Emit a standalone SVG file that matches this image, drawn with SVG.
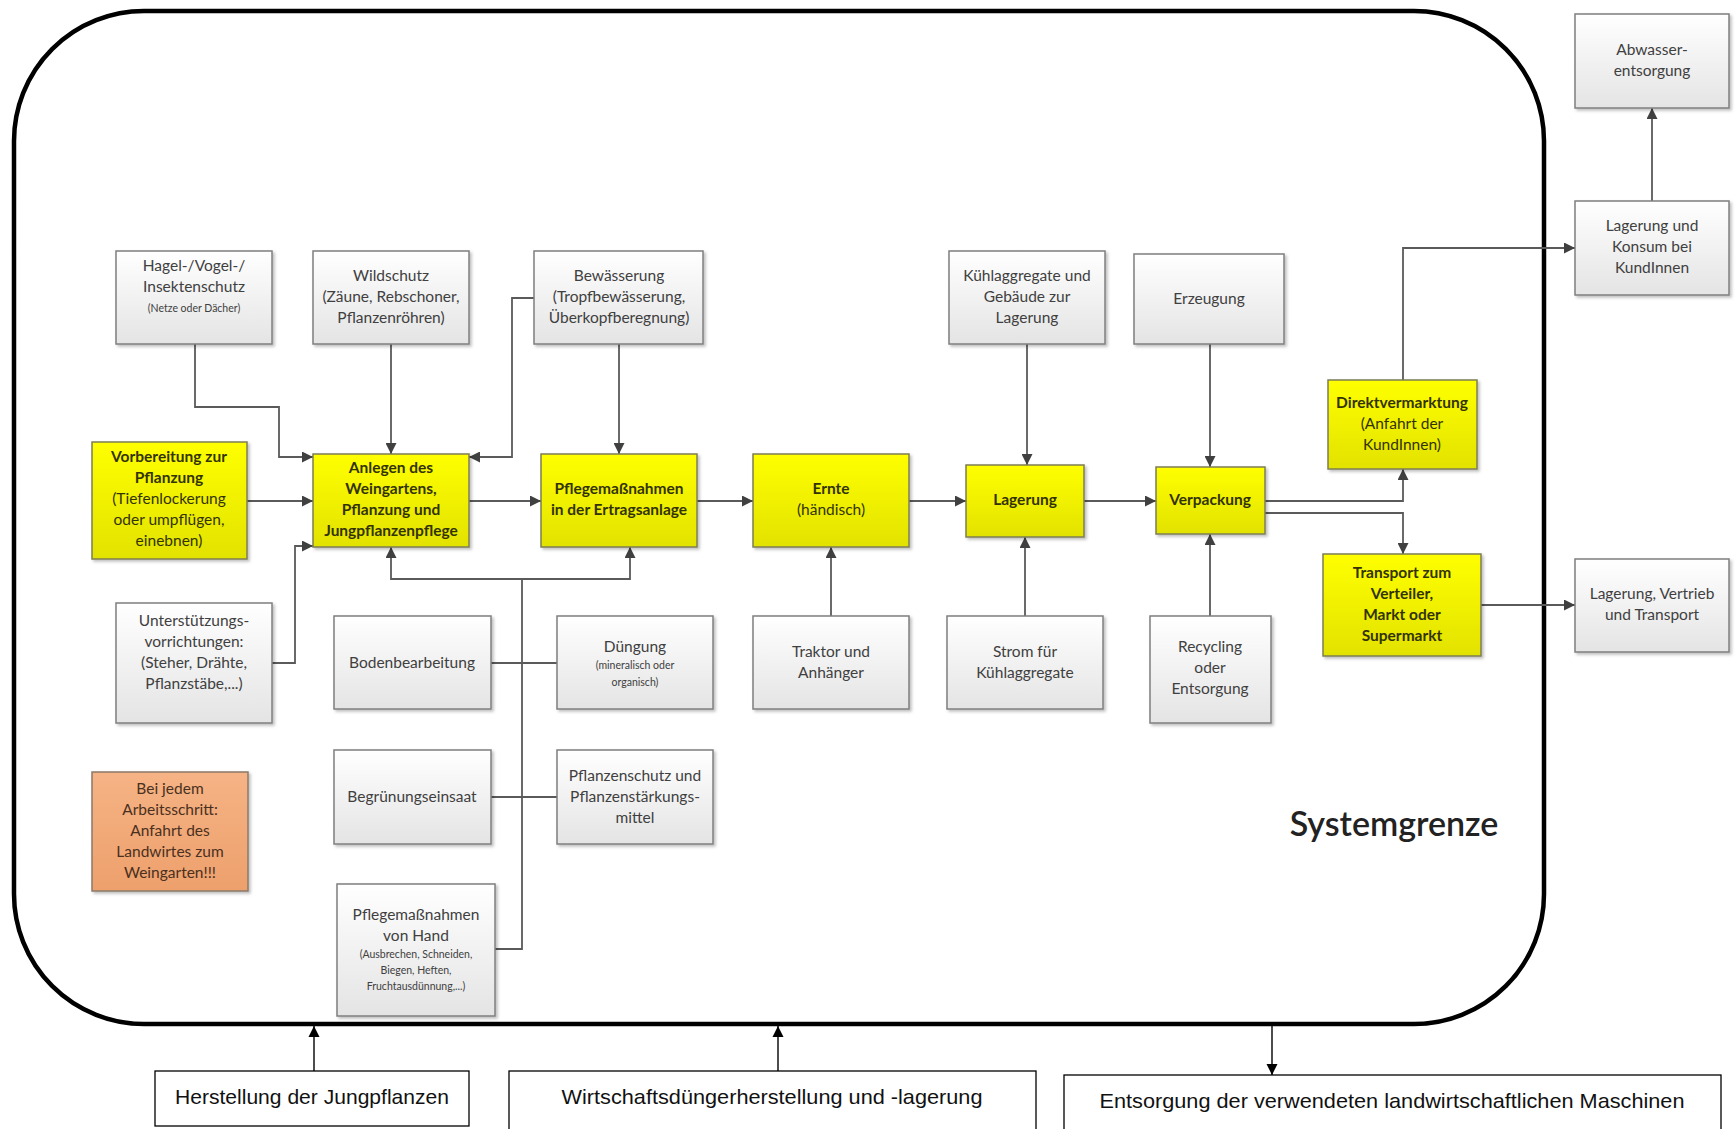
<svg xmlns="http://www.w3.org/2000/svg" width="1735" height="1129" viewBox="0 0 1735 1129">
<defs>
<linearGradient id="gGray" x1="0" y1="0" x2="0" y2="1"><stop offset="0" stop-color="#ffffff"/><stop offset="1" stop-color="#e4e4e4"/></linearGradient>
<linearGradient id="gYel" x1="0" y1="0" x2="0" y2="1"><stop offset="0" stop-color="#ffff00"/><stop offset="1" stop-color="#e2e200"/></linearGradient>
<linearGradient id="gOr" x1="0" y1="0" x2="0" y2="1"><stop offset="0" stop-color="#f6b385"/><stop offset="1" stop-color="#eda06c"/></linearGradient>
<filter id="sh" x="-10%" y="-10%" width="125%" height="125%"><feDropShadow dx="2" dy="2" stdDeviation="1.5" flood-color="#000" flood-opacity="0.25"/></filter>
<marker id="ah" viewBox="0 0 10 10" refX="10" refY="5" markerWidth="11" markerHeight="11" markerUnits="userSpaceOnUse" orient="auto"><path d="M0,0 L10,5 L0,10 z" fill="#404040"/></marker>
<marker id="ahk" viewBox="0 0 10 10" refX="10" refY="5" markerWidth="11" markerHeight="13" markerUnits="userSpaceOnUse" orient="auto"><path d="M0,0 L10,5 L0,10 z" fill="#000"/></marker>
</defs>
<style>
.g{fill:url(#gGray);stroke:#7f7f7f;stroke-width:1.5;filter:url(#sh)}
.y{fill:url(#gYel);stroke:#7d7d55;stroke-width:1.5;filter:url(#sh)}
.o{fill:url(#gOr);stroke:#8a7a6a;stroke-width:1.5;filter:url(#sh)}
.w{fill:#fff;stroke:#000;stroke-width:1.3}
text{font-family:Lato,"Open Sans","Liberation Sans",sans-serif;text-anchor:middle}
.t{font-size:15.5px;fill:#404040}
.ty{font-size:15.5px;fill:#333300}
.b{font-weight:bold}
.s{font-size:10.5px;fill:#404040}
.to{font-size:15.5px;fill:#4a3020}
.c{fill:none;stroke:#5a5a5a;stroke-width:1.8}
.ca{fill:none;stroke:#5a5a5a;stroke-width:1.8;marker-end:url(#ah)}
.ck{fill:none;stroke:#000;stroke-width:1.4;marker-end:url(#ahk)}
.bt{font-family:"Liberation Sans",Arial,sans-serif;font-size:21px;fill:#111}
</style>

<g id="systemgrenze">
<rect x="14" y="11" width="1530" height="1013" rx="130" ry="130" fill="none" stroke="#000" stroke-width="4.5"/>
<text x="1394" y="836" style="font-family:Lato,'Open Sans',sans-serif;font-size:34px;font-weight:600;fill:#222">Systemgrenze</text>
</g>

<g id="connectors">
<path class="ca" d="M195,344 V407 H279 V457 H313"/>
<path class="ca" d="M391,344 V454"/>
<path class="ca" d="M534,298 H512 V457 H469"/>
<path class="ca" d="M247,501 H313"/>
<path class="ca" d="M272,663 H295 V546 H313"/>
<path class="ca" d="M469,501 H541"/>
<path class="ca" d="M619,344 V454"/>
<path class="ca" d="M697,501 H753"/>
<path class="ca" d="M909,501 H966"/>
<path class="ca" d="M1084,501 H1156"/>
<path class="ca" d="M1027,344 V465"/>
<path class="ca" d="M1210,344 V467"/>
<path class="ca" d="M1265,501 H1403 V469"/>
<path class="ca" d="M1265,513 H1403 V554"/>
<path class="ca" d="M1403,380 V248 H1575"/>
<path class="ca" d="M1652,201 V108"/>
<path class="ca" d="M1481,605 H1575"/>
<path class="ca" d="M831,616 V547"/>
<path class="ca" d="M1025,616 V537"/>
<path class="ca" d="M1210,616 V534"/>
<path class="c" d="M522,579 V949 H495"/>
<path class="ca" d="M522,579 H391 V547"/>
<path class="ca" d="M522,579 H630 V547"/>
<path class="c" d="M491,663 H557"/>
<path class="c" d="M491,797 H557"/>
<path class="ck" d="M314,1071 V1026"/>
<path class="ck" d="M778,1071 V1026"/>
<path class="ck" d="M1272,1026 V1075"/>
</g>

<g id="hagel"><rect class="g" x="116" y="251" width="156" height="93"/>
<text class="t" x="194" y="271">Hagel-/Vogel-/</text><text class="t" x="194" y="292">Insektenschutz</text><text class="s" x="194" y="312">(Netze oder Dächer)</text></g>
<g id="wildschutz"><rect class="g" x="313" y="251" width="156" height="93"/>
<text class="t" x="391" y="281">Wildschutz</text><text class="t" x="391" y="302">(Zäune, Rebschoner,</text><text class="t" x="391" y="323">Pflanzenröhren)</text></g>
<g id="bewaesserung"><rect class="g" x="534" y="251" width="169" height="93"/>
<text class="t" x="619" y="281">Bewässerung</text><text class="t" x="619" y="302">(Tropfbewässerung,</text><text class="t" x="619" y="323">Überkopfberegnung)</text></g>
<g id="kuehlaggregate"><rect class="g" x="949" y="251" width="156" height="93"/>
<text class="t" x="1027" y="281">Kühlaggregate und</text><text class="t" x="1027" y="302">Gebäude zur</text><text class="t" x="1027" y="323">Lagerung</text></g>
<g id="erzeugung"><rect class="g" x="1134" y="254" width="150" height="90"/>
<text class="t" x="1209" y="304">Erzeugung</text></g>
<g id="abwasser"><rect class="g" x="1575" y="14" width="154" height="94"/>
<text class="t" x="1652" y="55">Abwasser-</text><text class="t" x="1652" y="76">entsorgung</text></g>
<g id="konsum"><rect class="g" x="1575" y="201" width="154" height="94"/>
<text class="t" x="1652" y="231">Lagerung und</text><text class="t" x="1652" y="252">Konsum bei</text><text class="t" x="1652" y="273">KundInnen</text></g>

<g id="vorbereitung"><rect class="y" x="92" y="442" width="155" height="117"/>
<text class="ty b" x="169" y="462">Vorbereitung zur</text><text class="ty b" x="169" y="483">Pflanzung</text><text class="ty" x="169" y="504">(Tiefenlockerung</text><text class="ty" x="169" y="525">oder umpflügen,</text><text class="ty" x="169" y="546">einebnen)</text></g>
<g id="anlegen"><rect class="y" x="313" y="454" width="156" height="93"/>
<text class="ty b" x="391" y="473">Anlegen des</text><text class="ty b" x="391" y="494">Weingartens,</text><text class="ty b" x="391" y="515">Pflanzung und</text><text class="ty b" x="391" y="536">Jungpflanzenpflege</text></g>
<g id="pflege-ertrag"><rect class="y" x="541" y="454" width="156" height="93"/>
<text class="ty b" x="619" y="494">Pflegemaßnahmen</text><text class="ty b" x="619" y="515">in der Ertragsanlage</text></g>
<g id="ernte"><rect class="y" x="753" y="454" width="156" height="93"/>
<text class="ty b" x="831" y="494">Ernte</text><text class="ty" x="831" y="515">(händisch)</text></g>
<g id="lagerung"><rect class="y" x="966" y="465" width="118" height="72"/>
<text class="ty b" x="1025" y="505">Lagerung</text></g>
<g id="verpackung"><rect class="y" x="1156" y="467" width="109" height="67"/>
<text class="ty b" x="1210" y="505">Verpackung</text></g>
<g id="direktvermarktung"><rect class="y" x="1328" y="380" width="149" height="89"/>
<text class="ty b" x="1402" y="408">Direktvermarktung</text><text class="ty" x="1402" y="429">(Anfahrt der</text><text class="ty" x="1402" y="450">KundInnen)</text></g>
<g id="transport"><rect class="y" x="1323" y="554" width="158" height="102"/>
<text class="ty b" x="1402" y="578">Transport zum</text><text class="ty b" x="1402" y="599">Verteiler,</text><text class="ty b" x="1402" y="620">Markt oder</text><text class="ty b" x="1402" y="641">Supermarkt</text></g>
<g id="vertrieb"><rect class="g" x="1575" y="559" width="154" height="93"/>
<text class="t" x="1652" y="599">Lagerung, Vertrieb</text><text class="t" x="1652" y="620">und Transport</text></g>

<g id="unterstuetzung"><rect class="g" x="116" y="603" width="156" height="120"/>
<text class="t" x="194" y="626">Unterstützungs-</text><text class="t" x="194" y="647">vorrichtungen:</text><text class="t" x="194" y="668">(Steher, Drähte,</text><text class="t" x="194" y="689">Pflanzstäbe,...)</text></g>
<g id="bodenbearbeitung"><rect class="g" x="334" y="616" width="157" height="93"/>
<text class="t" x="412" y="668">Bodenbearbeitung</text></g>
<g id="duengung"><rect class="g" x="557" y="616" width="156" height="93"/>
<text class="t" x="635" y="652">Düngung</text><text class="s" x="635" y="669">(mineralisch oder</text><text class="s" x="635" y="686">organisch)</text></g>
<g id="traktor"><rect class="g" x="753" y="616" width="156" height="93"/>
<text class="t" x="831" y="657">Traktor und</text><text class="t" x="831" y="678">Anhänger</text></g>
<g id="strom"><rect class="g" x="947" y="616" width="156" height="93"/>
<text class="t" x="1025" y="657">Strom für</text><text class="t" x="1025" y="678">Kühlaggregate</text></g>
<g id="recycling"><rect class="g" x="1150" y="616" width="121" height="107"/>
<text class="t" x="1210" y="652">Recycling</text><text class="t" x="1210" y="673">oder</text><text class="t" x="1210" y="694">Entsorgung</text></g>
<g id="anfahrt"><rect class="o" x="92" y="772" width="156" height="119"/>
<text class="to" x="170" y="794">Bei jedem</text><text class="to" x="170" y="815">Arbeitsschritt:</text><text class="to" x="170" y="836">Anfahrt des</text><text class="to" x="170" y="857">Landwirtes zum</text><text class="to" x="170" y="878">Weingarten!!!</text></g>
<g id="begruenung"><rect class="g" x="334" y="750" width="157" height="94"/>
<text class="t" x="412" y="802">Begrünungseinsaat</text></g>
<g id="pflanzenschutz"><rect class="g" x="557" y="750" width="156" height="94"/>
<text class="t" x="635" y="781">Pflanzenschutz und</text><text class="t" x="635" y="802">Pflanzenstärkungs-</text><text class="t" x="635" y="823">mittel</text></g>
<g id="pflege-hand"><rect class="g" x="337" y="884" width="158" height="132"/>
<text class="t" x="416" y="920">Pflegemaßnahmen</text><text class="t" x="416" y="941">von Hand</text><text class="s" x="416" y="958">(Ausbrechen, Schneiden,</text><text class="s" x="416" y="974">Biegen, Heften,</text><text class="s" x="416" y="990">Fruchtausdünnung,...)</text></g>

<g id="herstellung"><rect class="w" x="155" y="1071" width="314" height="55"/>
<text class="bt" x="312" y="1104" textLength="274" lengthAdjust="spacingAndGlyphs">Herstellung der Jungpflanzen</text></g>
<g id="wirtschaftsduenger"><rect class="w" x="509" y="1071" width="527" height="70"/>
<text class="bt" x="772" y="1104" textLength="421" lengthAdjust="spacingAndGlyphs">Wirtschaftsdüngerherstellung und -lagerung</text></g>
<g id="entsorgung"><rect class="w" x="1064" y="1075" width="657" height="70"/>
<text class="bt" x="1392" y="1108" textLength="585" lengthAdjust="spacingAndGlyphs">Entsorgung der verwendeten landwirtschaftlichen Maschinen</text></g>
</svg>
